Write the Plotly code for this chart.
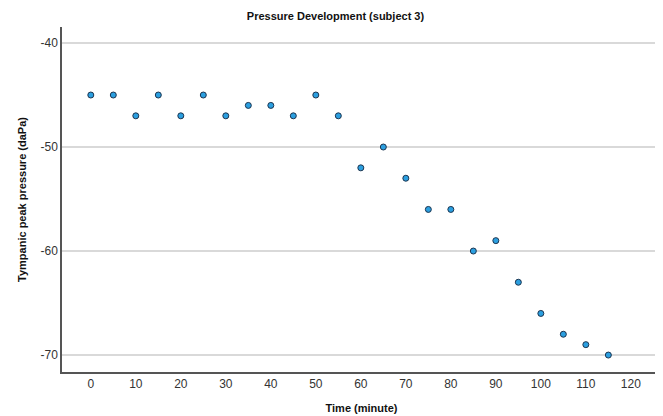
import plotly.graph_objects as go

time_min = [0, 5, 10, 15, 20, 25, 30, 35, 40, 45, 50, 55, 60, 65, 70, 75, 80, 85, 90, 95, 100, 105, 110, 115]
pressure = [-45, -45, -47, -45, -47, -45, -47, -46, -46, -47, -45, -47, -52, -50, -53, -56, -56, -60, -59, -63, -66, -68, -69, -70]
x_ticks = [0, 10, 20, 30, 40, 50, 60, 70, 80, 90, 100, 110, 120]
y_ticks = [-40, -50, -60, -70]
y_tick_labels = ["-40", "-50", "-60", "-70"]

fig = go.Figure(go.Scatter(
    x=time_min, y=pressure, mode="markers",
    marker=dict(size=6, color="#2b9fe0", line=dict(color="#1c3550", width=1)),
))

font = "Liberation Sans, Arial, sans-serif"
fig.update_layout(
    width=655, height=408,
    margin=dict(l=54, r=2, t=19, b=44),
    plot_bgcolor="white", paper_bgcolor="white",
    showlegend=False,
    font=dict(family=font, size=12, color="#333"),
    title=dict(text="<b>Pressure Development (subject 3)</b>", x=0.5, xref="container", xanchor="center",
               y=1, yref="container", yanchor="top", pad=dict(t=4),
               font=dict(size=11, color="#111", family=font)),
)
fig.update_xaxes(
    range=[-6.4, 126.7], tickvals=x_ticks, showgrid=False, zeroline=False,
    showline=True, linecolor="#555", linewidth=1.5,
    ticks="", tickfont=dict(size=12, color="#333"),
    title=dict(text="<b>Time (minute)</b>", font=dict(size=11, color="#111"), standoff=14),
)
fig.update_yaxes(
    range=[-71.63, -38.46], tickvals=y_ticks, ticktext=y_tick_labels,
    showgrid=True, gridcolor="#d9d9d9", gridwidth=1.5,
    zeroline=False, showline=True, linecolor="#555", linewidth=1.5,
    ticks="", tickfont=dict(size=12, color="#333"),
    title=dict(text="<b>Tympanic peak pressure (daPa)</b>", font=dict(size=11, color="#111"), standoff=12),
)

fig.write_html("out.html")
